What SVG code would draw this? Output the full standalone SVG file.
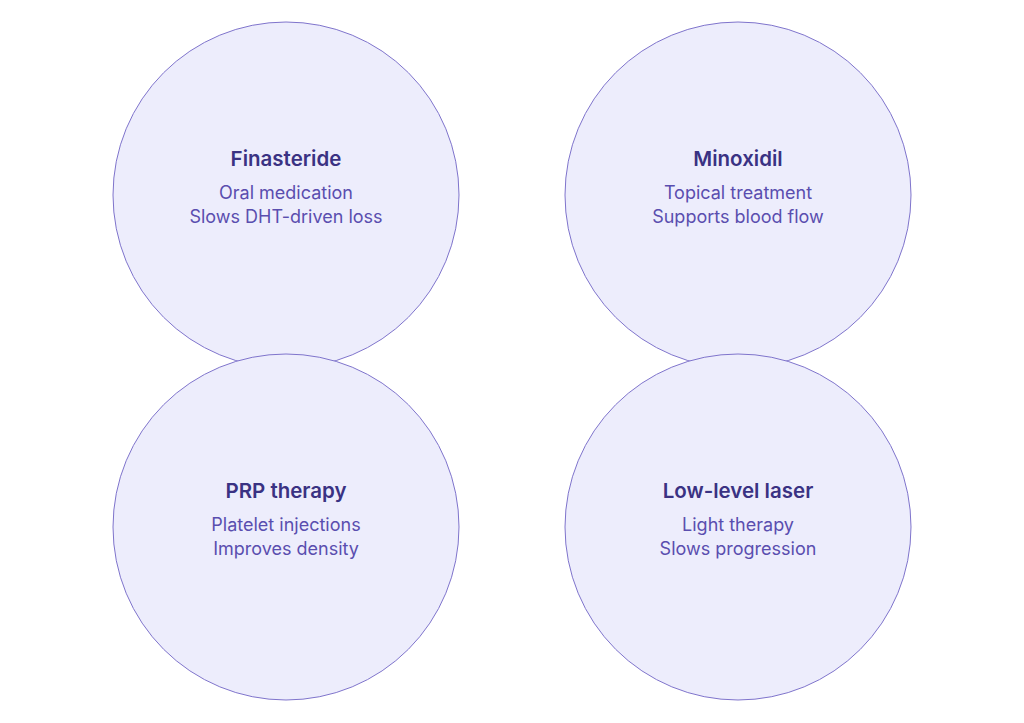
<svg xmlns="http://www.w3.org/2000/svg" width="1024" height="723" viewBox="0 0 1024 723">
<style>
.c{fill:#ededfc;stroke:#7f74cc;stroke-width:1}
.t{font-family:Inter,"Liberation Sans",sans-serif;font-size:20.5px;font-weight:600;fill:#3a3283;text-anchor:middle}
.s{font-family:Inter,"Liberation Sans",sans-serif;font-size:18px;fill:#5a4eaf;text-anchor:middle}
</style>
<rect width="1024" height="723" fill="#ffffff"/>
<g id="connectors"></g>
<g id="finasteride">
<circle class="c" cx="286" cy="195" r="173"/>
<text class="t" x="286" y="166">Finasteride</text>
<text class="s" x="286" y="199">Oral medication</text>
<text class="s" x="286" y="223">Slows DHT-driven loss</text>
</g>
<g id="minoxidil">
<circle class="c" cx="738" cy="195" r="173"/>
<text class="t" x="738" y="166">Minoxidil</text>
<text class="s" x="738" y="199">Topical treatment</text>
<text class="s" x="738" y="223">Supports blood flow</text>
</g>
<g id="prp">
<circle class="c" cx="286" cy="527" r="173"/>
<text class="t" x="286" y="498">PRP therapy</text>
<text class="s" x="286" y="531">Platelet injections</text>
<text class="s" x="286" y="555">Improves density</text>
</g>
<g id="laser">
<circle class="c" cx="738" cy="527" r="173"/>
<text class="t" x="738" y="498">Low-level laser</text>
<text class="s" x="738" y="531">Light therapy</text>
<text class="s" x="738" y="555">Slows progression</text>
</g>
</svg>
